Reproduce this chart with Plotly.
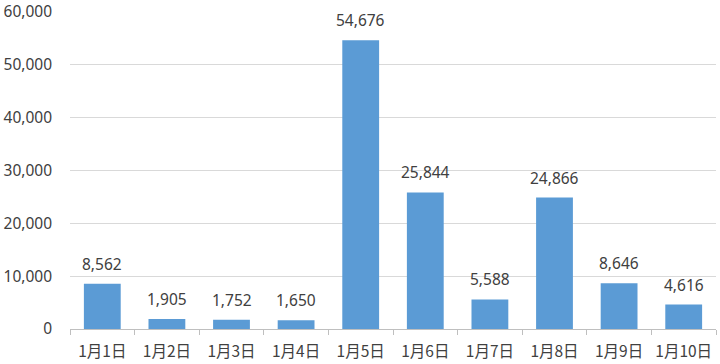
import plotly.graph_objects as go

categories = ["1月1日", "1月2日", "1月3日", "1月4日", "1月5日", "1月6日", "1月7日", "1月8日", "1月9日", "1月10日"]
values = [8562, 1905, 1752, 1650, 54676, 25844, 5588, 24866, 8646, 4616]

font_family = "Noto Sans, Noto Sans CJK SC, sans-serif"
text_color = "#404040"

fig = go.Figure()
fig.add_trace(go.Bar(
    x=categories, y=values,
    marker=dict(color="#5B9BD5", line=dict(width=0)),
    width=0.57,
    hoverinfo="x+y",
))

for c, v in zip(categories, values):
    fig.add_annotation(x=c, y=v, text=f"{v:,}", showarrow=False,
                       yanchor="bottom", yshift=7,
                       font=dict(size=15.5, color=text_color, family=font_family))

fig.update_layout(
    width=720, height=364,
    margin=dict(l=70, r=4, t=12, b=35),
    paper_bgcolor="white", plot_bgcolor="white",
    showlegend=False,
    font=dict(family=font_family, size=15, color=text_color),
)
fig.update_xaxes(
    type="category",
    showline=True, linecolor="#bfbfbf", linewidth=1,
    ticks="outside", tickson="boundaries", ticklen=5, tickcolor="#bfbfbf",
    tickfont=dict(size=15.5, color=text_color, family="Noto Sans CJK SC, sans-serif"),
    tickangle=0, automargin=False,
    ticklabelstandoff=8,
    showgrid=False,
)
fig.update_yaxes(
    range=[0, 60000], dtick=10000, tickformat=",d",
    showgrid=True, gridcolor="#d9d9d9", gridwidth=1,
    zeroline=False, showline=False,
    ticks="", ticklabelstandoff=17, automargin=False,
    tickfont=dict(size=15.5, color=text_color),
)

fig.write_html("out.html")
